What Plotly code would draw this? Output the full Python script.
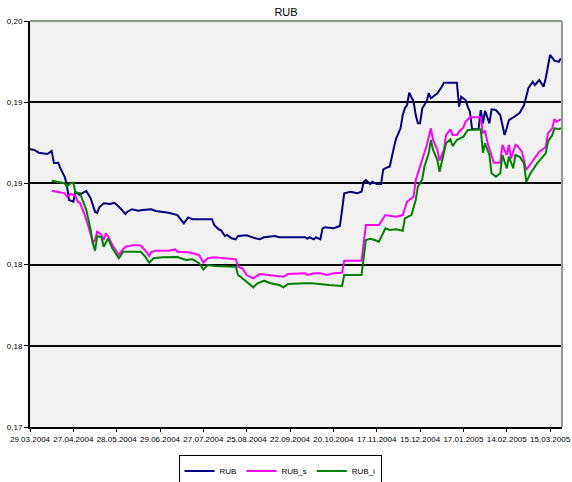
import plotly.graph_objects as go

# x = trading day number since 29.03.2004, a tick label every 20 trading days
tick_days = [0, 20, 40, 60, 80, 100, 120, 140, 160, 180, 200, 220, 240]
tick_labels = ["29.03.2004", "27.04.2004", "28.05.2004", "29.06.2004", "27.07.2004",
               "25.08.2004", "22.09.2004", "20.10.2004", "17.11.2004", "15.12.2004",
               "17.01.2005", "14.02.2005", "15.03.2005"]
y_ticks = [0.170, 0.176, 0.182, 0.188, 0.194, 0.200]

rub_day = [0, 2, 4, 8, 10, 11, 13, 14, 16, 17,
           18, 20, 21, 23, 24, 26, 28, 30, 31, 32,
           34, 37, 39, 41, 44, 45, 47, 50, 52, 56,
           58, 64, 68, 71, 73, 75, 84, 85, 87, 88,
           90, 91, 93, 95, 96, 100, 104, 106, 108, 113,
           115, 127, 128, 129, 131, 132, 134, 135, 136, 140,
           142, 143, 144, 145, 148, 151, 153, 154, 155, 157,
           158, 160, 162, 163, 165, 166, 168, 169, 171, 172,
           173, 174, 175, 177, 178, 179, 180, 181, 183, 184,
           185, 188, 190, 191, 197, 198, 199, 201, 202, 203,
           204, 207, 208, 209, 210, 212, 213, 215, 217, 218,
           219, 220, 221, 224, 226, 228, 229, 230, 232, 233,
           235, 237, 238, 240, 242, 244, 245]
rub = [.19052, .19047, .19027, .19017, .19039, .18951, .18953, .18912, .18849, .18788,
       .18677, .18665, .18739, .18714, .18727, .18744, .18690, .18591, .18583, .18623,
       .18653, .18648, .18657, .18628, .18574, .18591, .18609, .18598, .18603, .18609,
       .18596, .18583, .18566, .18505, .18549, .18535, .18535, .18493, .18461, .18456,
       .18411, .18419, .18394, .18387, .18411, .18416, .18394, .18387, .18402, .18411,
       .18402, .18402, .18391, .18402, .18387, .18402, .18387, .18468, .18476, .18468,
       .18480, .18485, .18603, .18727, .18739, .18727, .18739, .18812, .18825, .18795,
       .18812, .18795, .18795, .18904, .18919, .18923, .19071, .19133, .19207, .19305,
       .19355, .19379, .19470, .19404, .19305, .19244, .19244, .19355, .19404, .19466,
       .19429, .19466, .19514, .19544, .19544, .19367, .19441, .19416, .19367, .19330,
       .19200, .19200, .19342, .19244, .19337, .19244, .19347, .19342, .19305, .19231,
       .19158, .19207, .19268, .19298, .19322, .19379, .19453, .19503, .19551, .19527,
       .19564, .19514, .19577, .19749, .19707, .19699, .19724]

rub_s_day = [10, 13, 16, 17, 19, 21, 22, 23, 25, 27,
             29, 30, 31, 33, 34, 35, 36, 38, 39, 41,
             42, 44, 46, 48, 51, 53, 55, 56, 58, 64,
             67, 68, 74, 78, 80, 82, 85, 91, 95, 96,
             98, 100, 103, 106, 111, 117, 119, 127, 128, 131,
             134, 137, 140, 144, 145, 153, 155, 161, 164, 169,
             172, 174, 175, 177, 178, 180, 182, 183, 185, 186,
             188, 189, 191, 192, 194, 195, 197, 198, 200, 201,
             203, 208, 209, 210, 211, 214, 217, 218, 220, 221,
             222, 224, 225, 227, 229, 231, 233, 235, 238, 239,
             241, 242, 243, 245]
rub_s = [.18746, .18736, .18727, .18702, .18722, .18707, .18665, .18657, .18579, .18480,
         .18362, .18382, .18443, .18419, .18382, .18431, .18411, .18345, .18320, .18271,
         .18295, .18332, .18337, .18345, .18342, .18308, .18263, .18295, .18303, .18303,
         .18313, .18295, .18289, .18271, .18214, .18247, .18254, .18247, .18239, .18184,
         .18172, .18123, .18099, .18130, .18123, .18110, .18130, .18136, .18123, .18136,
         .18136, .18123, .18136, .18140, .18229, .18229, .18493, .18493, .18566, .18554,
         .18566, .18665, .18677, .18702, .18825, .18923, .19010, .19076, .19207, .19121,
         .19047, .18968, .19047, .19158, .19200, .19158, .19158, .19182, .19214, .19256,
         .19288, .19288, .19170, .19189, .19108, .18953, .18953, .19084, .19010, .19084,
         .18985, .19084, .19076, .19034, .18899, .18943, .18985, .19034, .19067, .19170,
         .19207, .19274, .19256, .19274]

rub_i_day = [10, 13, 16, 17, 19, 20, 21, 23, 24, 26,
             28, 29, 30, 31, 33, 34, 36, 37, 38, 41,
             43, 51, 53, 55, 57, 61, 64, 68, 72, 75,
             78, 80, 82, 85, 95, 96, 98, 101, 103, 105,
             108, 111, 115, 117, 119, 127, 130, 138, 144, 145,
             153, 155, 157, 159, 161, 164, 166, 169, 172, 173,
             176, 178, 179, 181, 182, 184, 185, 186, 188, 189,
             191, 192, 194, 195, 197, 200, 202, 208, 209, 210,
             212, 213, 215, 217, 218, 220, 221, 223, 224, 226,
             228, 229, 231, 234, 236, 238, 239, 241, 242, 244,
             245]
rub_i = [.18820, .18812, .18801, .18776, .18805, .18805, .18727, .18729, .18690, .18603,
         .18456, .18357, .18303, .18411, .18402, .18332, .18394, .18357, .18320, .18247,
         .18295, .18295, .18263, .18214, .18247, .18254, .18254, .18256, .18234, .18239,
         .18210, .18165, .18197, .18190, .18184, .18123, .18099, .18062, .18032, .18062,
         .18081, .18062, .18049, .18032, .18057, .18062, .18062, .18049, .18042, .18123,
         .18123, .18382, .18391, .18382, .18369, .18468, .18456, .18461, .18450, .18542,
         .18566, .18677, .18776, .18830, .18923, .19022, .19121, .19047, .18973, .18886,
         .19022, .19096, .19126, .19076, .19121, .19145, .19195, .19200, .19027, .19096,
         .19010, .18875, .18849, .18875, .19010, .18912, .18997, .18912, .19010, .18997,
         .18948, .18812, .18875, .18948, .18985, .19022, .19108, .19158, .19207, .19202,
         .19207]

font = "Liberation Sans, Arial, sans-serif"

fig = go.Figure()
fig.add_trace(go.Scatter(x=rub_day, y=rub, name="RUB", mode="lines",
                         line=dict(color="#000080", width=2)))
fig.add_trace(go.Scatter(x=rub_s_day, y=rub_s, name="RUB_s", mode="lines",
                         line=dict(color="#ff00ff", width=2)))
fig.add_trace(go.Scatter(x=rub_i_day, y=rub_i, name="RUB_i", mode="lines",
                         line=dict(color="#008000", width=2)))

# top and right frame of the plot area (greyish green as in the original)
fig.add_shape(type="line", xref="paper", yref="paper", x0=0, x1=1, y0=1, y1=1,
              line=dict(color="#8c9c8a", width=2), layer="above")
fig.add_shape(type="line", xref="paper", yref="paper", x0=1, x1=1, y0=0, y1=1,
              line=dict(color="#8c9c8a", width=2), layer="above")

fig.update_layout(
    width=572, height=482,
    margin=dict(l=30, r=10, t=21, b=55, autoexpand=False),
    paper_bgcolor="white", plot_bgcolor="#f1f1f1",
    separators=",.",
    font=dict(family=font, size=8, color="black"),
    title=dict(text="RUB", x=0.5, xanchor="center", y=0.975, yanchor="middle",
               font=dict(family=font, size=11, color="black")),
    showlegend=True,
    legend=dict(orientation="h", x=0.47, xanchor="center", y=-0.07, yanchor="top",
                bordercolor="black", borderwidth=1, bgcolor="white",
                font=dict(family=font, size=8), itemwidth=30),
    xaxis=dict(range=[0, 245.5], tickvals=tick_days, ticktext=tick_labels,
               tickangle=0, showgrid=False, zeroline=False, automargin=False,
               showline=True, linecolor="black", linewidth=2,
               ticks="outside", ticklen=3, tickcolor="black"),
    yaxis=dict(range=[0.170, 0.200], tickvals=y_ticks, tickformat=".2f",
               showgrid=True, gridcolor="black", gridwidth=1.5, zeroline=False,
               automargin=False,
               showline=True, linecolor="black", linewidth=2,
               ticks="outside", ticklen=4, tickcolor="black"),
)

# drop the browser's default body margin so the figure sits at the page corner
fig.write_html("out.html", config={"displayModeBar": False},
               post_script="document.body.style.margin='0';")
